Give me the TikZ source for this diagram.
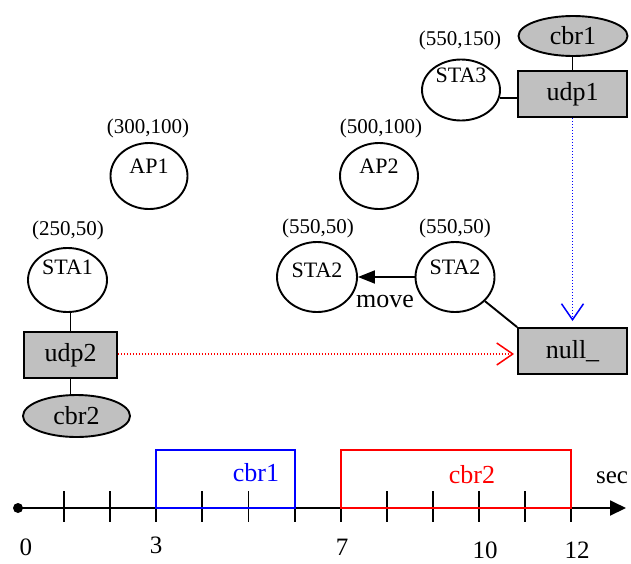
\documentclass[tikz,border=0pt]{standalone}
\usepackage{fontspec}
\setmainfont{Liberation Serif}
\usetikzlibrary{shapes.geometric,arrows.meta,calc}
\definecolor{boxgray}{RGB}{192,192,192}
\begin{document}
\begin{tikzpicture}[x=1pt,y=-1pt,line width=1.9pt,
  small/.style={font=\fontsize{21}{21}\selectfont,inner sep=0pt},
  stalabel/.style={font=\fontsize{22}{22}\selectfont,inner sep=0pt},
  big/.style={font=\fontsize{26}{26}\selectfont,inner sep=0pt},
  axislabel/.style={font=\fontsize{25}{25}\selectfont,inner sep=0pt},
  station/.style={draw,ellipse,inner sep=0pt},
  agent/.style={draw,rectangle,fill=boxgray,inner sep=0pt,minimum height=46pt,
    font=\fontsize{26}{26}\selectfont},
  traffic/.style={draw,ellipse,fill=boxgray,inner sep=0pt,
    font=\fontsize{26}{26}\selectfont},
  flow/.style={line width=1.4pt,dash pattern=on 1.4pt off 1.6pt,
    -{Straight Barb[length=16pt,width=22pt,line width=1.5pt]}},
]
\useasboundingbox (0,0) rectangle (631,563);

% stations and access points
\node[station,minimum width=78pt,minimum height=61pt] (sta3) at (461,90) {};
\node[stalabel] (sta3t) at (461,75) {STA3};
\node[small] (sta3c) at (460,40) {(550,150)};

\node[station,minimum width=77pt,minimum height=66pt] (ap1) at (149,176) {};
\node[stalabel] (ap1t) at (149,166) {AP1};
\node[small] (ap1c) at (148,128) {(300,100)};

\node[station,minimum width=78pt,minimum height=66pt] (ap2) at (379,176) {};
\node[stalabel] (ap2t) at (379,166) {AP2};
\node[small] (ap2c) at (381,128) {(500,100)};

\node[station,minimum width=79pt,minimum height=64pt] (sta1) at (67.5,280) {};
\node[stalabel] (sta1t) at (67.5,267) {STA1};
\node[small] (sta1c) at (68,230) {(250,50)};

\node[station,minimum width=80pt,minimum height=70pt] (sta2l) at (317,277) {};
\node[stalabel] (sta2lt) at (317,270) {STA2};
\node[small] (sta2lc) at (318,228) {(550,50)};

\node[station,minimum width=79pt,minimum height=70pt] (sta2r) at (455,277) {};
\node[stalabel] (sta2rt) at (455,267) {STA2};
\node[small] (sta2rc) at (455,228) {(550,50)};

% agents and traffic sources
\node[traffic,minimum width=109pt,minimum height=40pt] (cbr1) at (573,36) {cbr1};
\node[agent,minimum width=109pt] (udp1) at (572.5,94) {udp1};
\node[agent,minimum width=93pt] (udp2) at (70.5,355) {udp2};
\node[traffic,minimum width=107pt,minimum height=42pt] (cbr2) at (76.5,416) {cbr2};
\node[agent,minimum width=109pt] (null) at (572.5,351) {null\_};

% attachments
\draw (udp1.north) -- (udp1.north |- cbr1.south);
\draw (sta3.-12) -- (sta3.-12 -| udp1.west);
\draw (udp2.north) -- (udp2.north |- sta1.south);
\draw (udp2.south) -- (udp2.south |- cbr2.north);
\draw (sta2r) -- (null.north west);

% movement
\draw[-{Triangle[length=17pt,width=13pt]}] (sta2r) -- (sta2l);
\node[big] (move) at (385,301) {move};

% traffic flows
\draw[flow,blue,shorten >=6pt] (udp1) -- (null);
\draw[flow,red,shorten >=3pt] ($(udp2.east)+(0,-1)$) -- ($(udp2.east -| null.west)+(0,-1)$);

% time axis
\node[circle,fill,inner sep=0pt,minimum size=10pt] (t0) at (18,508) {};
\coordinate (tend) at (626,508);
\draw[-{Triangle[length=16pt,width=15pt]}] (t0.center) -- (tend);
\foreach \k in {1,...,12}
  \draw (18+46.1*\k,491) -- (18+46.1*\k,522);

\coordinate (b1a) at (156.3,450);
\coordinate (b1b) at (294.6,508);
\draw[blue] (b1a) rectangle (b1b);
\coordinate (b2a) at (340.7,450);
\coordinate (b2b) at (571.2,508);
\draw[red] (b2a) rectangle (b2b);
\node[big,text=blue] (cbr1t) at (256,473) {cbr1};
\node[big,text=red] (cbr2t) at (472,475) {cbr2};

\node[axislabel] (sec) at (612,478) {sec};
\node[axislabel] (l0) at (26,547) {0};
\node[axislabel] (l3) at (156,545) {3};
\node[axislabel] (l7) at (342,547) {7};
\node[axislabel] (l10) at (485,550) {10};
\node[axislabel] (l12) at (577,550) {12};
\end{tikzpicture}
\end{document}
